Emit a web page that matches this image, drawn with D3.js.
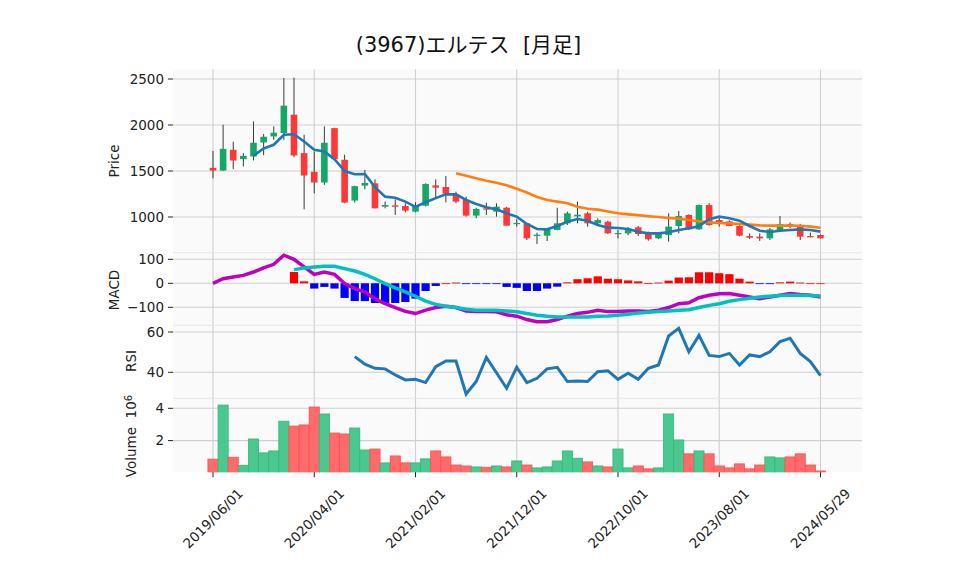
<!DOCTYPE html>
<html>
<head>
<meta charset="utf-8">
<script src="https://cdn.jsdelivr.net/npm/d3@7"></script>
<style>
  html, body { margin: 0; padding: 0; background: #ffffff; }
  svg text { font-family: "DejaVu Sans", sans-serif; }
</style>
</head>
<body>
<svg id="chart" width="958" height="575"></svg>
<script>
// ---------------- data (monthly bars) ----------------
const dates = ["2019/06/01","2019/07/01","2019/08/01","2019/09/01","2019/10/01","2019/11/01","2019/12/01",
"2020/01/01","2020/02/01","2020/03/01","2020/04/01","2020/05/01","2020/06/01","2020/07/01","2020/08/01",
"2020/09/01","2020/10/01","2020/11/01","2020/12/01","2021/01/01","2021/02/01","2021/03/01","2021/04/01",
"2021/05/01","2021/06/01","2021/07/01","2021/08/01","2021/09/01","2021/10/01","2021/11/01","2021/12/01",
"2022/01/01","2022/02/01","2022/03/01","2022/04/01","2022/05/01","2022/06/01","2022/07/01","2022/08/01",
"2022/09/01","2022/10/01","2022/11/01","2022/12/01","2023/01/01","2023/02/01","2023/03/01","2023/04/01",
"2023/05/01","2023/06/01","2023/07/01","2023/08/01","2023/09/01","2023/10/01","2023/11/01","2023/12/01",
"2024/01/01","2024/02/01","2024/03/01","2024/04/01","2024/05/01","2024/05/29"];

const openP  = [1534,1505,1730,1629,1658,1810,1876,1912,2112,1694,1491,1375,1966,1622,1179,1341,1366,1112,1127,1120,
                1058,1123,1344,1326,1239,1185,1015,1094,1058,1101,928,931,793,797,859,931,1007,1040,931,949,
                819,822,888,822,768,804,902,1022,866,1130,967,953,902,793,786,768,851,924,913,793,804];
const highP  = [1717,2003,1818,1694,2039,1901,1985,2511,2515,1894,1712,1985,1970,1676,1340,1511,1409,1167,1192,1149,
                1160,1365,1409,1446,1275,1221,1101,1156,1149,1110,975,935,830,877,1101,1058,1167,1058,985,960,
                859,888,902,841,830,1040,1065,1030,1135,1149,1000,965,910,820,822,880,1011,940,925,830,810];
const lowP   = [1420,1500,1520,1549,1614,1672,1839,1839,1651,1084,1258,1349,1625,1150,1157,1301,1094,1094,1022,1051,
                1050,1115,1214,1159,1149,1004,986,1022,1004,906,895,750,707,739,855,913,931,895,925,815,
                768,804,793,743,760,732,822,860,860,905,895,900,790,760,740,750,845,880,750,780,765];
const closeP = [1505,1741,1614,1665,1807,1872,1916,2210,1669,1451,1375,1807,1629,1157,1335,1370,1094,1130,1112,1069,
                1120,1359,1319,1254,1167,1015,1087,1080,1112,906,935,768,808,859,931,1040,1025,931,967,822,
                826,870,815,757,822,895,1011,866,1130,913,931,902,797,775,768,866,924,906,786,786,768];
// volume in millions of shares
const volume = [0.85,4.2,0.97,0.47,2.1,1.24,1.36,3.2,2.9,2.97,4.08,3.65,2.47,2.41,2.78,1.42,1.48,0.62,1.05,0.62,
                0.62,0.87,1.36,0.99,0.49,0.43,0.37,0.35,0.43,0.37,0.74,0.49,0.31,0.37,0.74,1.36,0.91,0.68,0.43,0.37,
                1.48,0.31,0.43,0.25,0.31,3.65,2.04,1.18,1.36,1.18,0.43,0.31,0.56,0.25,0.49,0.99,0.93,0.99,1.18,0.49,0.12];
// moving averages (null = not drawn)
const ma5 = [null,null,null,null,1665,1745,1785,1894,1900,1821,1730,1712,1629,1500,1465,
             1467,1325,1221,1210,1167,1110,1160,1205,1246,1246,1185,1141,1105,1083,1040,
             1004,924,870,866,902,949,978,960,913,884,
             880,870,840,822,822,835,859,877,900,975,1004,986,960,902,851,837,851,859,866,859,841];
const ma25 = [null,null,null,null,null,null,null,null,null,null,null,null,null,null,null,
              null,null,null,null,null,null,null,null,null,1475,1449,1420,1395,1373,1345,
              1306,1266,1218,1185,1167,1149,1112,1090,1080,1060,
              1040,1029,1020,1009,1000,990,982,967,953,942,935,931,924,917,909,906,906,906,905,895,884];
// MACD panel
const macd = [0,19,26,33,47,64,79,117,100,68,37,47,37,-1,-22,-36,-64,-85,-101,-117,-126,-112,-101,-96,-101,
              -115,-117,-117,-119,-131,-137,-151,-160,-160,-151,-137,-126,-121,-112,-118,-118,-115,-115,-117,-112,
              -101,-85,-81,-60,-50,-44,-43,-50,-57,-64,-57,-50,-43,-47,-50,-57];
const signal = [null,null,null,null,null,null,null,null,57,64,68,71,71,61,51,37,19,-1,-19,-36,-54,-74,-88,-96,-101,
              -108,-112,-112,-112,-115,-119,-126,-133,-137,-140,-140,-140,-140,-137,-136,-133,-129,-124,-121,-118,
              -115,-112,-110,-101,-92,-85,-75,-68,-62,-57,-54,-51,-50,-50,-51,-53];
const hist = [null,null,null,null,null,null,null,null,47,8,-22,-15,-22,-61,-74,-74,-82,-85,-82,-78,-64,-32,-11,0,3,
              -2,-3,-3,-3,-15,-19,-32,-32,-22,-14,4,17,21,29,19,17,12,8,0,3,
              11,24,25,46,46,42,38,19,7,-2,-2,4,7,3,0,0];
// RSI
const rsi = [null,null,null,null,null,null,null,null,null,null,null,null,null,null,47.8,44,42,41.7,38.7,36.2,
             36.5,34.9,42.8,45.6,45.6,29.2,35.4,47.4,39.8,32.1,42.5,34.9,37,41.7,42.5,35.4,35.7,35.4,40.3,40.8,
             36.5,39.5,36.5,42,43.6,58,61.8,50.2,58.3,48.4,47.8,49.4,43.6,48.6,47.8,50.2,55.2,56.9,49.4,45.3,38.3];

const priceTicks = [1000,1500,2000,2500];
const macdTicks = [-100,0,100];
const rsiTicks = [40,60];
const volTicks = [2,4];
const xTickIdx = [0,10,20,30,40,50,60];
const titleText = "(3967)エルテス  [月足]";

// ---------------- layout ----------------
const svg = d3.select("#chart");
const L = 173, R = 862;
const panels = {
  price: {top: 69.3, bottom: 252.7},
  macd:  {top: 252.7, bottom: 325.3},
  rsi:   {top: 325.3, bottom: 398.3},
  vol:   {top: 398.3, bottom: 472.2}
};
const x = d3.scaleLinear().domain([-3.95, 64.1]).range([L, R]);
const yP = d3.scaleLinear().domain([1000, 2500]).range([217, 79]);
const yM = d3.scaleLinear().domain([-100, 100]).range([307.3, 259.3]);
const yR = d3.scaleLinear().domain([40, 60]).range([372.3, 332]);
const yV = d3.scaleLinear().domain([0, 4]).range([472.9, 408.3]);

const GRID = "#cfcfcf";
const UP = "#13a865", DOWN = "#ff3737";
const VUP = "#4bc790", VDOWN = "#ff6b6b";

// title
svg.append("text").attr("x", 468.5).attr("y", 52).attr("text-anchor", "middle")
  .style("font-size", "21px").style("white-space", "pre")
  .style("font-family", "'DejaVu Sans','Noto Sans CJK JP',sans-serif")
  .attr("fill", "#111").text(titleText);

// panel backgrounds and clip paths
Object.entries(panels).forEach(([k, p]) => {
  svg.append("rect").attr("x", L).attr("y", p.top).attr("width", R - L).attr("height", p.bottom - p.top)
    .attr("fill", "#fafafa");
  svg.append("clipPath").attr("id", "clip-" + k).append("rect")
    .attr("x", L).attr("y", p.top).attr("width", R - L).attr("height", p.bottom - p.top);
});

// vertical grid lines
Object.entries(panels).forEach(([k, p]) => {
  svg.append("g").selectAll("line").data(xTickIdx).join("line")
    .attr("x1", d => x(d)).attr("x2", d => x(d)).attr("y1", p.top).attr("y2", p.bottom)
    .attr("stroke", GRID).attr("stroke-width", 1.1);
});

function yAxis(scale, ticks, fmt, clipKey) {
  const p = panels[clipKey];
  const g = svg.append("g");
  ticks.forEach(t => {
    const yy = scale(t);
    if (yy < p.top - 0.5 || yy > p.bottom + 0.5) return;
    g.append("line").attr("x1", L).attr("x2", R).attr("y1", yy).attr("y2", yy)
      .attr("stroke", GRID).attr("stroke-width", 1.1);
    g.append("line").attr("x1", L - 5).attr("x2", L).attr("y1", yy).attr("y2", yy)
      .attr("stroke", "#222").attr("stroke-width", 1);
    g.append("text").attr("x", L - 9).attr("y", yy).attr("dy", "0.36em").attr("text-anchor", "end")
      .style("font-size", "13.5px").attr("fill", "#222").text(fmt(t));
  });
}
yAxis(yP, priceTicks, d => String(d), "price");
yAxis(yM, macdTicks, d => d < 0 ? "\u2212" + Math.abs(d) : String(d), "macd");
yAxis(yR, rsiTicks, d => String(d), "rsi");
yAxis(yV, volTicks, d => String(d), "vol");

// panel separators
[panels.price.bottom, panels.macd.bottom, panels.rsi.bottom].forEach(yy => {
  svg.append("line").attr("x1", L).attr("x2", R).attr("y1", yy).attr("y2", yy)
    .attr("stroke", "#e6e6e6").attr("stroke-width", 1);
});

// y labels
function ylab(txt, xx, yy) {
  return svg.append("text").attr("transform", `translate(${xx},${yy}) rotate(-90)`)
    .attr("text-anchor", "middle").style("font-size", "13.5px").style("white-space", "pre")
    .attr("fill", "#222").text(txt);
}
ylab("Price", 119, 161);
ylab("MACD", 119, 290);
ylab("RSI", 136, 361);
const vl = ylab("Volume  ", 136, 436);
vl.append("tspan").text("10");
vl.append("tspan").attr("dy", "-0.45em").style("font-size", "10px").text("6");

// ---------------- price panel ----------------
const gP = svg.append("g").attr("clip-path", "url(#clip-price)");
const idx = d3.range(dates.length);
const bw = 6.6;
gP.selectAll("line.wick").data(idx).join("line").attr("class", "wick")
  .attr("x1", i => x(i)).attr("x2", i => x(i))
  .attr("y1", i => yP(highP[i])).attr("y2", i => yP(lowP[i]))
  .attr("stroke", "#3a3a3a").attr("stroke-width", 1);
gP.selectAll("rect.body").data(idx).join("rect").attr("class", "body")
  .attr("x", i => x(i) - bw / 2).attr("width", bw)
  .attr("y", i => yP(Math.max(openP[i], closeP[i])))
  .attr("height", i => Math.max(1.2, Math.abs(yP(openP[i]) - yP(closeP[i]))))
  .attr("fill", i => closeP[i] >= openP[i] ? UP : DOWN);

const lineGen = (scale) => d3.line().defined(d => d[1] !== null).x(d => x(d[0])).y(d => scale(d[1]));
gP.append("path").datum(ma25.map((v, i) => [i, v])).attr("d", lineGen(yP))
  .attr("fill", "none").attr("stroke", "#ff7f0e").attr("stroke-width", 2.6);
gP.append("path").datum(ma5.map((v, i) => [i, v])).attr("d", lineGen(yP))
  .attr("fill", "none").attr("stroke", "#1f77b4").attr("stroke-width", 2.6);

// ---------------- MACD panel ----------------
const gM = svg.append("g").attr("clip-path", "url(#clip-macd)");
const hw = 8.2;
gM.selectAll("rect.h").data(idx.filter(i => hist[i] !== null)).join("rect").attr("class", "h")
  .attr("x", i => x(i) - hw / 2).attr("width", hw)
  .attr("y", i => Math.min(yM(0), yM(hist[i])))
  .attr("height", i => Math.max(0.8, Math.abs(yM(hist[i]) - yM(0))))
  .attr("fill", i => hist[i] >= 0 ? "#ff0000" : "#0000ff");
gM.append("path").datum(macd.map((v, i) => [i, v])).attr("d", lineGen(yM))
  .attr("fill", "none").attr("stroke", "#bf00bf").attr("stroke-width", 3.5);
gM.append("path").datum(signal.map((v, i) => [i, v])).attr("d", lineGen(yM))
  .attr("fill", "none").attr("stroke", "#00c0c0").attr("stroke-width", 3.5);

// ---------------- RSI panel ----------------
const gR = svg.append("g").attr("clip-path", "url(#clip-rsi)");
gR.append("path").datum(rsi.map((v, i) => [i, v])).attr("d", lineGen(yR))
  .attr("fill", "none").attr("stroke", "#1f77b4").attr("stroke-width", 3);

// ---------------- Volume panel ----------------
const gV = svg.append("g").attr("clip-path", "url(#clip-vol)");
const vw = x(1) - x(0);
gV.selectAll("rect.v").data(idx).join("rect").attr("class", "v")
  .attr("x", i => x(i) - vw / 2).attr("width", vw)
  .attr("y", i => yV(volume[i])).attr("height", i => yV(0) - yV(volume[i]))
  .attr("fill", i => closeP[i] >= openP[i] ? VUP : VDOWN)
  .attr("stroke", i => closeP[i] >= openP[i] ? "#2fb87a" : "#ff4f4f").attr("stroke-width", 0.8);

// ---------------- x axis ----------------
const gx = svg.append("g");
xTickIdx.forEach(i => {
  const xx = x(i);
  gx.append("line").attr("x1", xx).attr("x2", xx).attr("y1", panels.vol.bottom).attr("y2", panels.vol.bottom + 5)
    .attr("stroke", "#222").attr("stroke-width", 1);
  const t = gx.append("text").style("font-size", "13.5px").attr("fill", "#222")
    .attr("text-anchor", "middle").text(dates[i]);
  const len = t.node().getComputedTextLength();
  const H = (len + 13.5) * Math.SQRT1_2;
  t.attr("transform", `translate(${xx},${panels.vol.bottom + 14 + H / 2}) rotate(-45)`).attr("dy", "0.35em");
});
</script>
</body>
</html>
